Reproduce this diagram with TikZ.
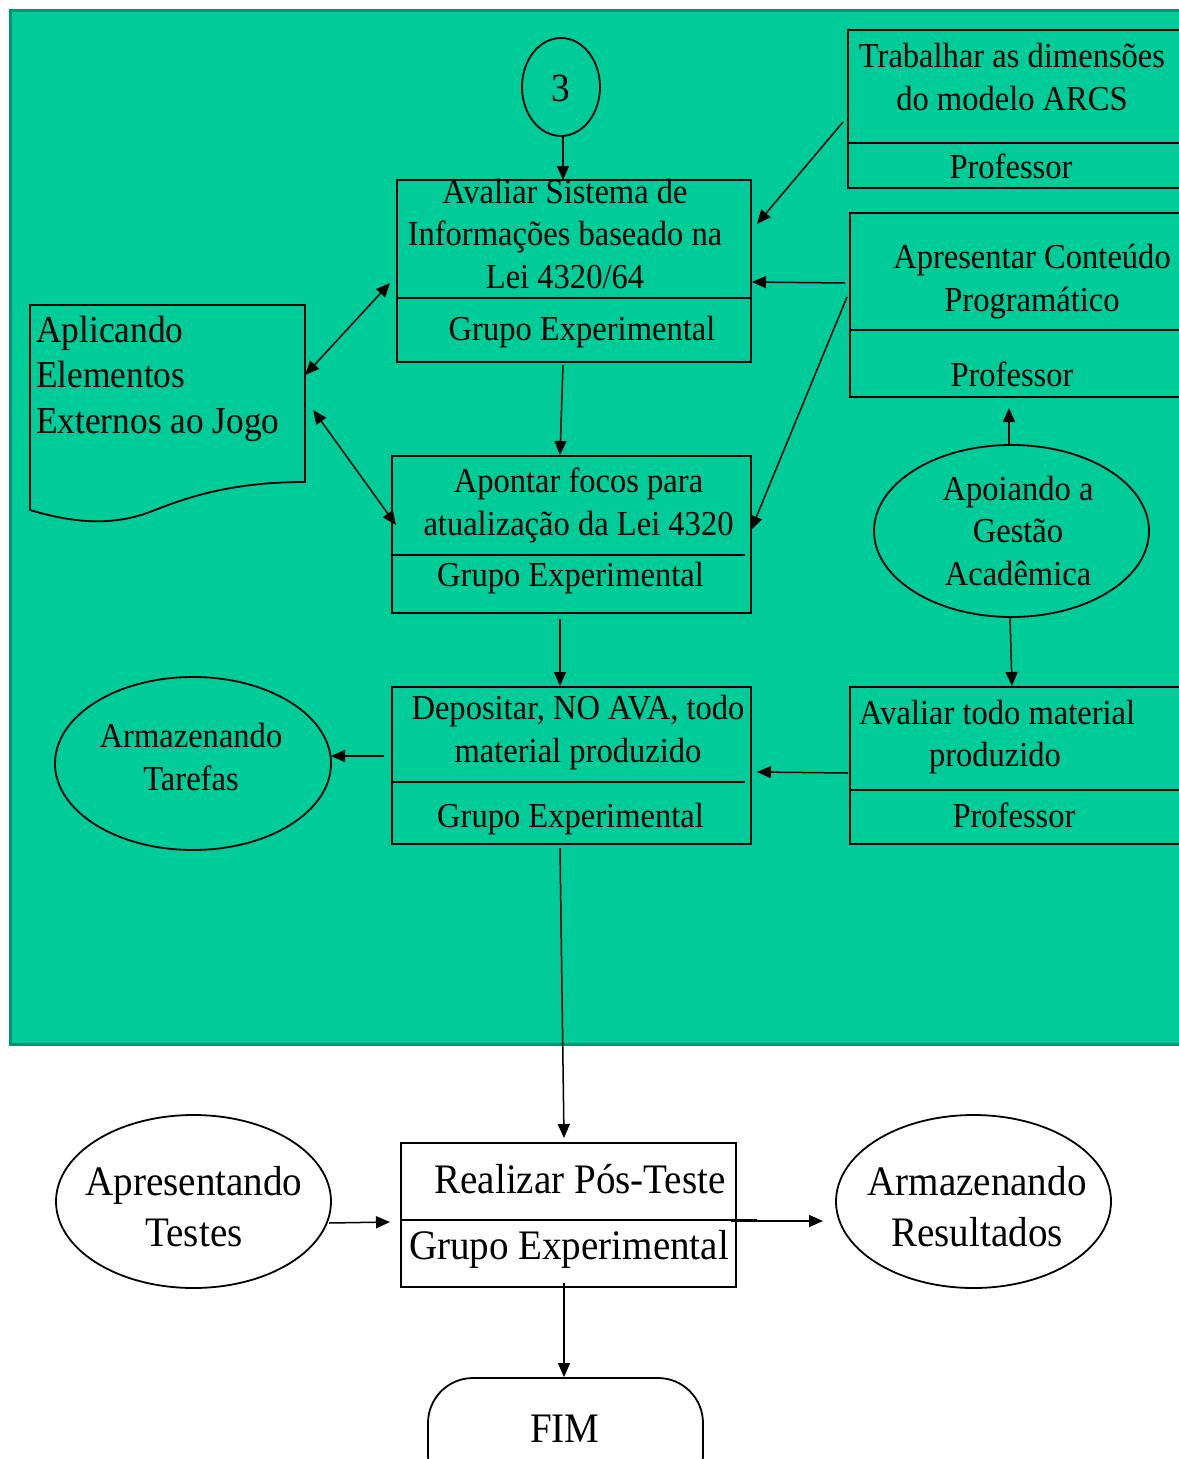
\documentclass[tikz,border=0pt]{standalone}
\usepackage{fontspec}
\setmainfont{Liberation Serif}[FakeStretch=0.93]
\usetikzlibrary{shapes.geometric,arrows.meta}
\definecolor{panelgreen}{RGB}{0,204,153}
\definecolor{paneledge}{RGB}{0,150,112}
\newcommand\fsMain{\fontsize{35}{42.5}\selectfont}
\newcommand\fsDoc{\fontsize{38}{45.5}\selectfont}
\newcommand\fsBig{\fontsize{42}{51}\selectfont}
\begin{document}
\begin{tikzpicture}[x=1pt,y=-1pt,
  box/.style={draw, line width=1.8pt, rectangle, inner sep=0pt, outer sep=0pt},
  oval/.style={draw, line width=1.8pt, ellipse, inner sep=0pt, outer sep=0pt},
  lbl/.style={anchor=base, inner sep=0pt, align=center, font=\fsMain},
  arr/.style={line width=1.5pt, -{Triangle[length=14pt,width=12pt]}},
  darr/.style={line width=1.5pt, {Triangle[length=14pt,width=12pt]}-{Triangle[length=14pt,width=12pt]}},
  divider/.style={line width=1.8pt}]
\useasboundingbox (0,0) rectangle (1178,1459);

% green panel
\draw[fill=panelgreen, draw=paneledge, line width=3pt] (10.5,10.5) rectangle (1195,1044);

% process boxes
\node[box, minimum width=354pt, minimum height=182pt] (avaliar) at (574,271) {};
\node[box, minimum width=359pt, minimum height=157pt] (apontar) at (571.5,534.5) {};
\node[box, minimum width=359pt, minimum height=157pt] (deposit) at (571.5,765.5) {};
\node[box, minimum width=342pt, minimum height=158pt] (trab) at (1019,109) {};
\node[box, minimum width=340pt, minimum height=184pt] (apres) at (1020,305) {};
\node[box, minimum width=340pt, minimum height=157pt] (avmat) at (1020,765.5) {};
\node[box, minimum width=335pt, minimum height=144pt] (realizar) at (568.5,1215) {};

\draw[divider] ([shift={(0,118)}]avaliar.north west) -- ([shift={(0,118)}]avaliar.north east);
\draw[divider] ([shift={(0,99)}]apontar.north west) -- ([shift={(-6,99)}]apontar.north east);
\draw[divider] ([shift={(0,95)}]deposit.north west) -- ([shift={(-6,95)}]deposit.north east);
\draw[divider] ([shift={(0,113)}]trab.north west) -- ([shift={(0,113)}]trab.north east);
\draw[divider] ([shift={(0,117)}]apres.north west) -- ([shift={(0,117)}]apres.north east);
\draw[divider] ([shift={(0,103)}]avmat.north west) -- ([shift={(0,103)}]avmat.north east);
\draw[divider] ([shift={(0,77)}]realizar.north west) -- ([shift={(0,77)}]realizar.north east);

% ovals and terminals
\node[oval, minimum width=78pt, minimum height=98pt] (circ3) at (561,87) {};
\node[oval, minimum width=275pt, minimum height=172pt] (apoiando) at (1011.5,531) {};
\node[oval, minimum width=276pt, minimum height=173pt] (tarefas) at (193,763.5) {};
\node[oval, minimum width=275pt, minimum height=173pt] (testes) at (193.5,1201.5) {};
\node[oval, minimum width=275pt, minimum height=173pt] (resultados) at (973.5,1201.5) {};
\node[draw, line width=1.8pt, rounded corners=45pt, minimum width=275pt, minimum height=122pt, inner sep=0pt] (fim) at (565.5,1439) {};

% document shape
\node[minimum width=275pt, minimum height=177pt, inner sep=0pt] (doc) at (167.5,393.5) {};
\draw[line width=1.8pt] (30,510) -- (30,305) -- (305,305) -- (305,482)
  .. controls (230,482) and (185,498) .. (150,512)
  .. controls (110,527) and (70,522) .. (30,510);

% labels (multi-line labels are placed by the baseline of their last line)
\node[lbl, font=\fontsize{40}{48}\selectfont] (l3) at (561,101) {3};
\node[lbl] (lavaliar) at (565,288) {Avaliar Sistema de\\Informações baseado na\\Lei 4320/64};
\node[lbl] (lavaliarg) at (582,340) {Grupo Experimental};
\node[lbl] (lapontar) at (578.5,535) {Apontar focos para\\atualização da Lei 4320};
\node[lbl] (lapontarg) at (570.5,586) {Grupo Experimental};
\node[lbl] (ldeposit) at (578,762) {Depositar, NO AVA, todo\\material produzido};
\node[lbl] (ldepositg) at (570.5,827) {Grupo Experimental};
\node[lbl] (ltrab) at (1012,110) {Trabalhar as dimensões\\do modelo ARCS};
\node[lbl] (ltrabp) at (1011,178) {Professor};
\node[lbl] (lapres) at (1032,311) {Apresentar Conteúdo\\Programático};
\node[lbl] (lapresp) at (1012,386) {Professor};
\node[lbl] (lapoiando) at (1018,585) {Apoiando a\\Gestão\\Acadêmica};
\node[lbl, align=left, anchor=base west] (lavmat) at (859,724) {Avaliar todo material};
\node[lbl] (lavmat2) at (995,766) {produzido};
\node[lbl] (lavmatp) at (1014,827) {Professor};
\node[lbl, align=left, anchor=base west, font=\fsDoc] (ldoc) at (36,433) {Aplicando\\Elementos\\Externos ao Jogo};
\node[lbl] (ltarefas) at (191,790) {Armazenando\\Tarefas};
\node[lbl, font=\fsBig] (lrealizar) at (580,1193) {Realizar Pós-Teste};
\node[lbl, font=\fsBig] (lrealizarg) at (569,1259) {Grupo Experimental};
\node[lbl, font=\fsBig] (ltestes) at (194,1246) {Apresentando\\Testes};
\node[lbl, font=\fsBig] (lresult) at (977,1246) {Armazenando\\Resultados};
\node[lbl, font=\fsBig] (lfim) at (565,1442) {FIM};

% connectors
\draw[arr] ([shift={(2,0)}]circ3.south) -- ([shift={(-11,0)}]avaliar.north);
\draw[arr] ([shift={(-5,13)}]trab.west) -- ([shift={(6,-47)}]avaliar.east);
\draw[arr] ([shift={(-5,-22)}]apres.west) -- ([shift={(1,11)}]avaliar.east);
\draw[arr] ([shift={(-3,-8)}]apres.west) -- ([shift={(0,-4.5)}]apontar.east);
\draw[darr] ([shift={(0,-18.5)}]doc.east) -- ([shift={(-7,12)}]avaliar.west);
\draw[darr] ([shift={(8,16.5)}]doc.east) -- ([shift={(4,-9.5)}]apontar.west);
\draw[arr] ([shift={(-11,3)}]avaliar.south) -- ([shift={(-11.5,-1)}]apontar.north);
\draw[arr] ([shift={(-11.5,6)}]apontar.south) -- ([shift={(-11.5,-1)}]deposit.north);
\draw[arr] ([shift={(-8,-9.5)}]deposit.west) -- ([shift={(0,-7.5)}]tarefas.east);
\draw[arr] ([shift={(-2,7.5)}]avmat.west) -- ([shift={(6,6.5)}]deposit.east);
\draw[arr] ([shift={(-2.5,0)}]apoiando.north) -- ([shift={(-11,11)}]apres.south);
\draw[arr] ([shift={(-1.5,0)}]apoiando.south) -- ([shift={(-8,-1)}]avmat.north);
\draw[arr] ([shift={(-11.5,4)}]deposit.south) -- ([shift={(-4.5,-5)}]realizar.north);
\draw[arr] ([shift={(-2,21.5)}]testes.east) -- ([shift={(-11,7)}]realizar.west);
\draw[arr] ([shift={(-5,6)}]realizar.east) -- ([shift={(-13,19.5)}]resultados.west);
\draw[line width=3pt] ([shift={(-5,5.5)}]realizar.east) -- ([shift={(21,5.5)}]realizar.east);
\draw[arr] ([shift={(-4.5,-4)}]realizar.south) -- ([shift={(-1.5,0)}]fim.north);
\end{tikzpicture}
\end{document}
